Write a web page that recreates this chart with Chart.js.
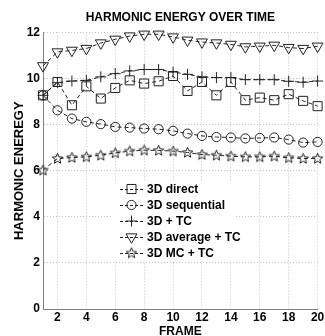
<!DOCTYPE html>
<html>
<head>
<meta charset="utf-8">
<script src="https://cdn.jsdelivr.net/npm/chart.js@4.4.0/dist/chart.umd.min.js"></script>
<style>
html, body { margin: 0; padding: 0; background: #fff; }
</style>
</head>
<body>
<canvas id="energyChart" width="325" height="336"></canvas>
<script>
const frames = [1, 2, 3, 4, 5, 6, 7, 8, 9, 10, 11, 12, 13, 14, 15, 16, 17, 18, 19, 20];
const xTickValues = [2, 4, 6, 8, 10, 12, 14, 16, 18, 20];
const yTickValues = [0, 2, 4, 6, 8, 10, 12];

const seriesNames = ['3D direct', '3D sequential', '3D + TC', '3D average + TC', '3D MC + TC'];
const direct = [9.27, 9.85, 8.84, 9.66, 9.13, 9.59, 9.92, 9.78, 9.88, 10.11, 9.46, 9.85, 9.27, 9.85, 9.06, 9.17, 9.06, 9.32, 9.03, 8.8];
const sequential = [9.27, 8.62, 8.26, 8.12, 8.02, 7.9, 7.87, 7.83, 7.8, 7.73, 7.61, 7.51, 7.46, 7.44, 7.4, 7.42, 7.44, 7.35, 7.22, 7.25];
const plusTC = [9.27, 9.82, 9.89, 9.92, 10.07, 10.21, 10.33, 10.39, 10.39, 10.28, 10.18, 10.07, 10.04, 10.04, 9.95, 9.95, 9.95, 9.88, 9.84, 9.89];
const averageTC = [10.55, 11.15, 11.22, 11.3, 11.54, 11.7, 11.84, 11.92, 11.92, 11.8, 11.66, 11.58, 11.54, 11.48, 11.37, 11.4, 11.44, 11.34, 11.3, 11.4];
const mcTC = [6.02, 6.53, 6.57, 6.6, 6.67, 6.77, 6.85, 6.89, 6.88, 6.85, 6.79, 6.7, 6.67, 6.63, 6.6, 6.6, 6.63, 6.56, 6.53, 6.53];

const FONT = "'Liberation Sans', Arial, Helvetica, sans-serif";
const INK = '#222';

// five pointed star marker (Chart.js 'star' is an asterisk)
function starMarker() {
    const c = document.createElement('canvas');
    c.width = 13; c.height = 13;
    const g = c.getContext('2d');
    g.strokeStyle = INK;
    g.lineWidth = 1;
    g.beginPath();
    for (let k = 0; k < 10; k++) {
        const r = k % 2 === 0 ? 5.5 : 2.4;
        const a = -Math.PI / 2 + k * Math.PI / 5;
        const px = 6.5 + r * Math.cos(a), py = 6.8 + r * Math.sin(a);
        if (k === 0) g.moveTo(px, py); else g.lineTo(px, py);
    }
    g.closePath();
    g.stroke();
    return c;
}

function points(values) {
    return frames.map((f, i) => ({ x: f, y: values[i] }));
}

function series(label, values, style, radius, rotation) {
    return {
        label: label,
        data: points(values),
        borderColor: INK,
        borderWidth: 1,
        borderDash: [4, 3],
        pointStyle: style,
        pointRadius: radius,
        pointRotation: rotation || 0,
        pointBorderColor: INK,
        pointBackgroundColor: 'rgba(0,0,0,0)',
        pointBorderWidth: 1,
        tension: 0,
        clip: false
    };
}

const datasets = [
    series(seriesNames[0], direct, 'rect', 6.4),
    series(seriesNames[1], sequential, 'circle', 4.6),
    series(seriesNames[2], plusTC, 'cross', 5.5),
    series(seriesNames[3], averageTC, 'triangle', 6.3, 180),
    series(seriesNames[4], mcTC, starMarker(), 6)
];

// legend sits inside the plot, white, no frame
const innerLegend = {
    id: 'innerLegend',
    afterDatasetsDraw(chart) {
        const ctx = chart.ctx;
        ctx.save();
        ctx.fillStyle = '#fff';
        ctx.fillRect(113, 181, 122, 80);
        chart.data.datasets.forEach((ds, i) => {
            const y = 189 + i * 16;
            ctx.strokeStyle = INK;
            ctx.lineWidth = 1;
            ctx.setLineDash([3, 2]);
            ctx.beginPath();
            ctx.moveTo(120, y + 0.5);
            ctx.lineTo(143, y + 0.5);
            ctx.stroke();
            ctx.setLineDash([]);
            ctx.fillStyle = 'rgba(0,0,0,0)';
            Chart.helpers.drawPoint(ctx, {
                pointStyle: ds.pointStyle,
                rotation: ds.pointRotation,
                radius: ds.pointRadius,
                borderWidth: 1
            }, 131.5, y);
            ctx.fillStyle = '#000';
            ctx.font = 'bold 12px ' + FONT;
            ctx.textBaseline = 'middle';
            ctx.textAlign = 'left';
            ctx.fillText(ds.label, 147, y + 1);
        });
        ctx.restore();
    }
};

new Chart(document.getElementById('energyChart'), {
    type: 'line',
    data: { datasets: datasets },
    options: {
        responsive: false,
        animation: false,
        layout: { padding: { left: 0, right: 5, top: 0, bottom: 0 } },
        plugins: {
            legend: { display: false },
            tooltip: { enabled: false },
            title: {
                display: true,
                text: 'HARMONIC ENERGY OVER TIME',
                fullSize: false,
                color: '#000',
                font: { family: FONT, size: 12, weight: 'bold' },
                padding: { top: 10, bottom: 8 }
            }
        },
        scales: {
            x: {
                type: 'linear',
                min: 1,
                max: 20,
                afterBuildTicks: (s) => { s.ticks = xTickValues.map(v => ({ value: v })); },
                afterFit: (s) => { s.height = 27; s.paddingLeft = 0; s.paddingRight = 0; },
                ticks: {
                    color: '#000',
                    padding: 1,
                    maxRotation: 0,
                    font: { family: FONT, size: 12, weight: 'bold' }
                },
                grid: { color: '#c4c4c4', lineWidth: 1, drawTicks: false },
                border: { display: true, color: '#808080', dash: [1, 2] },
                title: {
                    display: true,
                    text: 'FRAME',
                    color: '#000',
                    font: { family: FONT, size: 12, weight: 'bold', lineHeight: 0.8 },
                    padding: 0
                }
            },
            y: {
                min: 0,
                max: 12,
                afterBuildTicks: (s) => { s.ticks = yTickValues.map(v => ({ value: v })); },
                afterFit: (s) => { s.width = 43; s.paddingTop = 0; s.paddingBottom = 0; },
                ticks: {
                    color: '#000',
                    padding: 3,
                    font: { family: FONT, size: 12, weight: 'bold' }
                },
                grid: { color: '#c4c4c4', lineWidth: 1, drawTicks: false },
                border: { display: true, color: '#808080', dash: [1, 2] },
                title: {
                    display: true,
                    text: 'HARMONIC ENEREGY',
                    color: '#000',
                    font: { family: FONT, size: 13, weight: 'bold' },
                    padding: { top: 12, bottom: 0 }
                }
            }
        }
    },
    plugins: [innerLegend]
});
</script>
</body>
</html>
